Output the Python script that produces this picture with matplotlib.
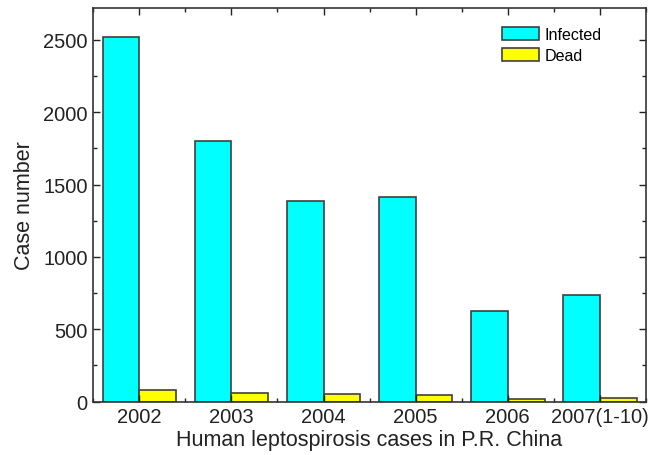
import numpy as np
import matplotlib.pyplot as plt
from matplotlib.ticker import MultipleLocator

plt.rcParams['font.family'] = ['Liberation Sans', 'DejaVu Sans']

years = ["2002", "2003", "2004", "2005", "2006", "2007(1-10)"]
infected = [2521, 1802, 1388, 1414, 624, 739]
dead = [81, 58, 53, 46, 17, 28]

x = np.arange(len(years))
w = 0.4

fig = plt.figure(figsize=(6.57, 4.56), dpi=100)
ax = fig.add_axes([0.142, 0.117, 0.841, 0.863])

ax.bar(x - w / 2, infected, width=w, color="#00ffff",
       edgecolor="#404040", linewidth=1.2, label="Infected")
ax.bar(x + w / 2, dead, width=w, color="#ffff00",
       edgecolor="#404040", linewidth=1.2, label="Dead")

ax.set_xlim(-0.5, 5.5)
ax.set_ylim(0, 2720)
ax.set_xticks(x)
ax.set_xticklabels(years)
ax.xaxis.set_minor_locator(MultipleLocator(1, offset=0.5))
ax.yaxis.set_major_locator(MultipleLocator(500))
ax.yaxis.set_minor_locator(MultipleLocator(250))

ax.tick_params(which="both", direction="in", top=True, right=True,
               labelsize=14.5, colors="#222222", width=1)
ax.tick_params(which="major", length=5, pad=4)
ax.tick_params(which="minor", length=3)
for s in ax.spines.values():
    s.set_color("#333333")
    s.set_linewidth(1.2)

ax.set_xlabel("Human leptospirosis cases in P.R. China", fontsize=15.5,
              color="#222222", labelpad=2)
ax.set_ylabel("Case number", fontsize=15.5, color="#222222", labelpad=6)

ax.legend(loc="upper left", bbox_to_anchor=(0.74, 0.952), frameon=False,
          fontsize=11.6, handlelength=2.3, handleheight=0.87,
          handletextpad=0.35, labelspacing=0.35, borderpad=0,
          borderaxespad=0)

fig.savefig("out.png", dpi=100)
